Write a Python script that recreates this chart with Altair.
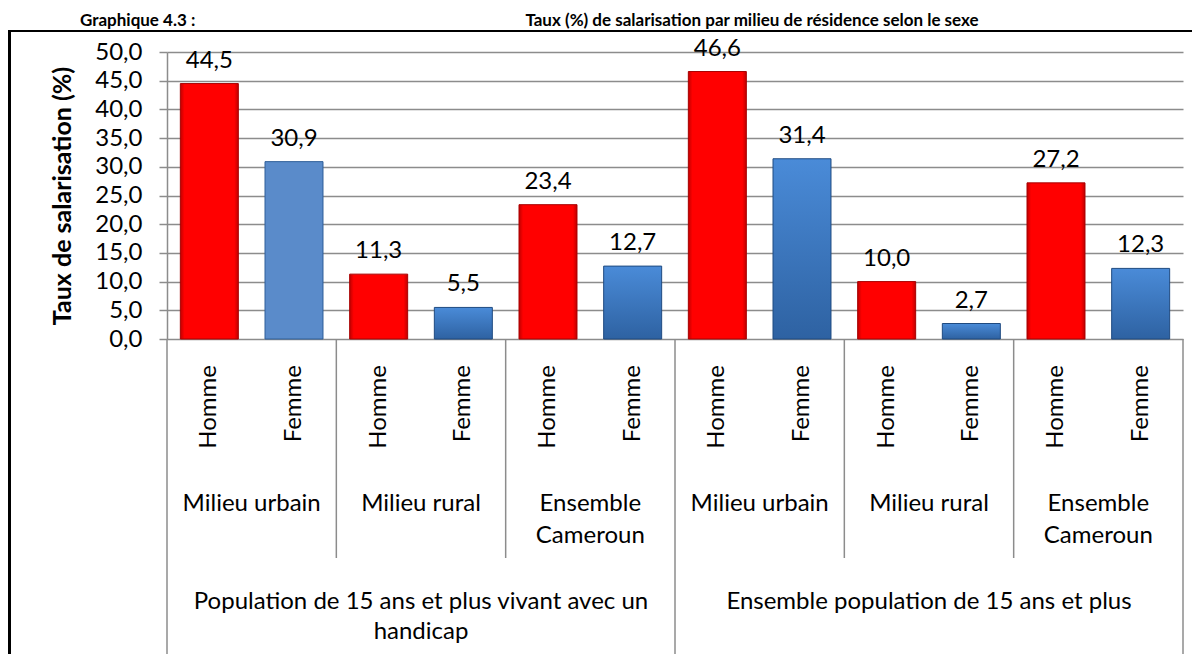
import altair as alt
import pandas as pd

# ---------------- data ----------------
populations = [
    "Population de 15 ans et plus vivant avec  un\nhandicap",
    "Ensemble population de 15 ans et plus",
]
milieux = ["Milieu urbain", "Milieu rural", "Ensemble\nCameroun"]
sexes = ["Homme", "Femme"]
homme_handicap = [44.5, 11.3, 23.4]
femme_handicap = [30.9, 5.5, 12.7]
homme_ensemble = [46.6, 10.0, 27.2]
femme_ensemble = [31.4, 2.7, 12.3]
y_ticks = [0, 5, 10, 15, 20, 25, 30, 35, 40, 45, 50]
title_num = "Graphique 4.3 :"
title_text = "Taux (%) de salarisation par milieu de résidence selon le sexe"
y_title = "Taux de salarisation (%)"

FONT = "Lato"
GRID = "#8C8C8C"

series = {0: (homme_handicap, femme_handicap), 1: (homme_ensemble, femme_ensemble)}
rows = []
for pi, p in enumerate(populations):
    h, f = series[pi]
    for mi, m in enumerate(milieux):
        for s, v in zip(sexes, (h[mi], f[mi])):
            rows.append(dict(key=f"{pi}-{mi}-{s}", pop=p, milieu=m, sexe=s, value=v,
                             label=f"{v:.1f}".replace(".", ","), first=(pi == 0 and mi == 0)))
df = pd.DataFrame(rows)
order = list(df["key"])
n_cats = len(order)
n_sex = len(sexes)
per_pop = len(milieux) * n_sex

grp = pd.DataFrame([dict(pos=pi * per_pop + mi * n_sex + n_sex / 2, text=m)
                    for pi in range(len(populations)) for mi, m in enumerate(milieux)])
grp_div = pd.DataFrame([dict(pos=pi * per_pop + mi * n_sex)
                        for pi in range(len(populations)) for mi in range(1, len(milieux))])
pop_lab = pd.DataFrame([dict(pos=pi * per_pop + per_pop / 2, text=p) for pi, p in enumerate(populations)])
pop_div = pd.DataFrame([dict(pos=pi * per_pop) for pi in range(len(populations) + 1)])

W, H = 1016, 287

x_band = alt.X("key:N", sort=order, axis=None,
               scale=alt.Scale(domain=order, paddingInner=0.315, paddingOuter=0.1575))
x_lin = alt.X("pos:Q", axis=None, scale=alt.Scale(domain=[0, n_cats], nice=False, zero=False))
y_enc = alt.Y("value:Q", scale=alt.Scale(domain=[0, 50], nice=False),
              axis=alt.Axis(values=y_ticks,
                            labelExpr="replace(format(datum.value, '.1f'), '.', ',')",
                            title=y_title, grid=True, gridColor=GRID, gridWidth=1.5,
                            domainColor=GRID, domainWidth=1.5, tickColor=GRID, tickWidth=1.5,
                            tickSize=8, labelFont=FONT, labelFontSize=24, labelColor="black",
                            labelPadding=17, titleFont=FONT, titleFontSize=25,
                            titleFontWeight="bold", titleColor="black", titlePadding=19))

red_grad = alt.LinearGradient(gradient="linear", x1=0, x2=1, y1=0, y2=0, stops=[
    alt.GradientStop(color="#C00000", offset=0), alt.GradientStop(color="#FF0000", offset=0.07),
    alt.GradientStop(color="#FF0000", offset=0.93), alt.GradientStop(color="#C00000", offset=1)])
blue_grad = alt.LinearGradient(gradient="linear", x1=0, x2=0, y1=0, y2=1, stops=[
    alt.GradientStop(color="#4A8BD8", offset=0), alt.GradientStop(color="#2E62A2", offset=1)])

base = alt.Chart(df)
bars_h = base.transform_filter("datum.sexe == 'Homme'").mark_bar(
    color=red_grad, stroke="#A80000", strokeWidth=1).encode(x=x_band, y=y_enc)
bars_f = base.transform_filter("datum.sexe == 'Femme' && !datum.first").mark_bar(
    color=blue_grad, stroke="#1F4A80", strokeWidth=1).encode(x=x_band, y=y_enc)
bars_f1 = base.transform_filter("datum.sexe == 'Femme' && datum.first").mark_bar(
    color="#5A8BCA", stroke="#2E5E99", strokeWidth=1).encode(x=x_band, y=y_enc)
vals = base.mark_text(font=FONT, fontSize=24, color="black", baseline="alphabetic", dy=-16).encode(
    x=x_band, y=y_enc, text="label:N")
sex_lab = base.mark_text(font=FONT, fontSize=24, color="black", angle=270, align="right",
                         baseline="middle").encode(x=x_band, y=alt.value(313), text="sexe:N")

grp_text = alt.Chart(grp).mark_text(font=FONT, fontSize=24, color="black", align="center",
                                    baseline="alphabetic", lineBreak="\n", lineHeight=32).encode(
    x=x_lin, y=alt.value(459), text="text:N")
grp_rule = alt.Chart(grp_div).mark_rule(color=GRID, strokeWidth=1.5).encode(
    x=x_lin, y=alt.value(H), y2=alt.value(506))
pop_text = alt.Chart(pop_lab).mark_text(font=FONT, fontSize=24, color="black", align="center",
                                        baseline="alphabetic", lineBreak="\n", lineHeight=30).encode(
    x=x_lin, y=alt.value(557), text="text:N")
pop_rule = alt.Chart(pop_div).mark_rule(color=GRID, strokeWidth=1.5).encode(
    x=x_lin, y=alt.value(H), y2=alt.value(603))

frame_left = alt.Chart(df).mark_rule(color="black", strokeWidth=2).encode(
    x=alt.value(-157.5), y=alt.value(-21), y2=alt.value(620))
frame_top = alt.Chart(df).mark_rule(color="black", strokeWidth=2).encode(
    x=alt.value(-158.5), x2=alt.value(1030), y=alt.value(-21))
t1 = alt.Chart(pd.DataFrame({"t": [title_num]})).mark_text(
    font=FONT, fontSize=17, fontWeight="bold", color="black", align="left", baseline="alphabetic").encode(
    x=alt.value(-87), y=alt.value(-26), text="t:N")
t2 = alt.Chart(pd.DataFrame({"t": [title_text]})).mark_text(
    font=FONT, fontSize=17, fontWeight="bold", color="black", align="center", baseline="alphabetic").encode(
    x=alt.value(585), y=alt.value(-26), text="t:N")

chart = alt.layer(
    bars_h, bars_f, bars_f1, vals, sex_lab, grp_text, grp_rule, pop_text, pop_rule,
    frame_left, frame_top, t1, t2
).resolve_scale(x="independent").properties(
    width=W, height=H,
    autosize=alt.AutoSizeParams(type="none"),
    padding={"left": 159, "top": 44, "right": 9, "bottom": 315},
    background="white",
).configure_view(stroke=None)

chart.save("out.html", embed_options={"renderer": "svg", "actions": False})
